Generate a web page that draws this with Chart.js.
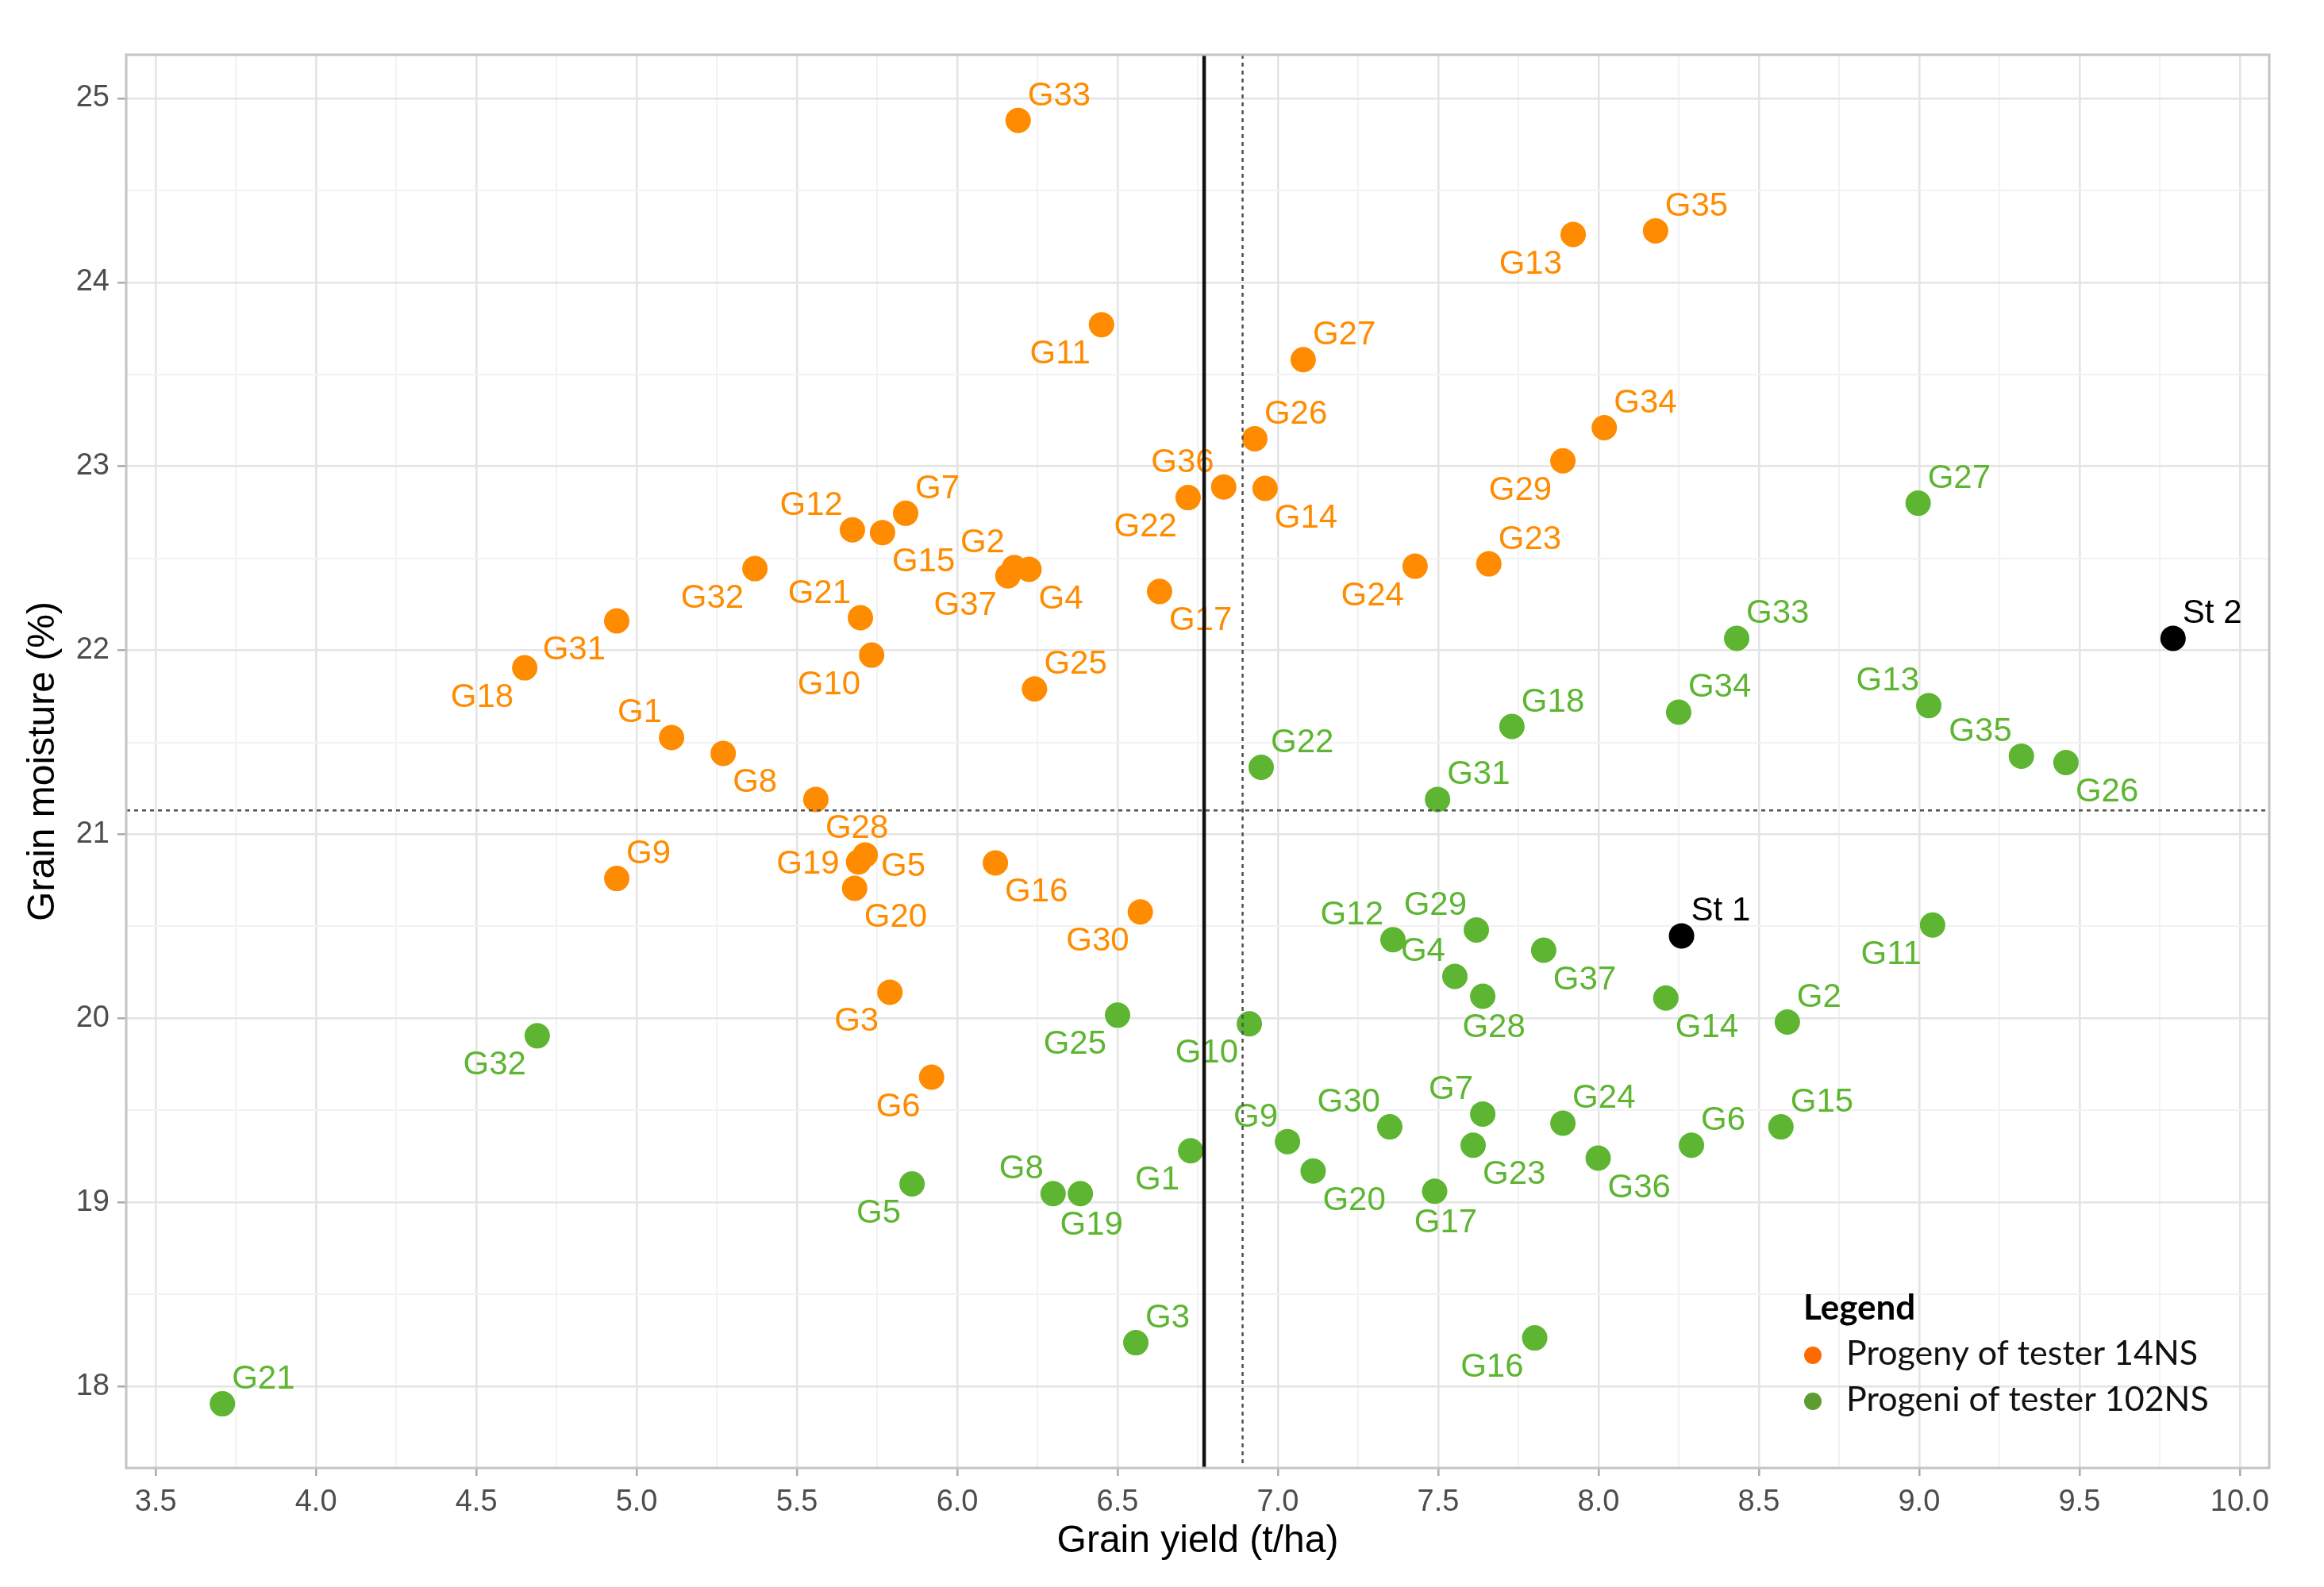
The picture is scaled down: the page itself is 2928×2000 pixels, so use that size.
<!DOCTYPE html>
<html>
<head>
<meta charset="utf-8">
<script src="https://cdn.jsdelivr.net/npm/chart.js@4.4.1/dist/chart.umd.min.js"></script>
<style>
  html, body { margin: 0; padding: 0; background: #ffffff; }
  #wrap { width: 2928px; height: 2000px; }
</style>
</head>
<body>
<div id="wrap"><canvas id="c" width="2928" height="2000"></canvas></div>
<script>
// ---------- DATA ----------
const xTickLabels = ['3.5','4.0','4.5','5.0','5.5','6.0','6.5','7.0','7.5','8.0','8.5','9.0','9.5','10.0'];
const yTickLabels = ['18','19','20','21','22','23','24','25'];
const xRange = [3.408, 10.092];
const yRange = [17.556, 25.237];

// Progeny of tester 14NS (orange)
const orangeNames    = ['G1','G2','G3','G4','G5','G6','G7','G8','G9','G10','G11','G12','G13','G14','G15','G16','G17','G18','G19','G20','G21','G22','G23','G24','G25','G26','G27','G28','G29','G30','G31','G32','G33','G34','G35','G36','G37'];
const orangeYield    = [5.109,6.178,5.790,6.224,5.713,5.920,5.839,5.270,4.938,5.733,6.450,5.673,7.921,6.960,5.767,6.119,6.631,4.651,5.692,5.680,5.698,6.720,7.658,7.428,6.241,6.928,7.079,5.559,7.889,6.571,4.938,5.369,6.190,8.018,8.178,6.831,6.158];
const orangeMoisture = [21.526,22.450,20.142,22.440,20.888,19.680,22.745,21.440,20.760,21.974,23.770,22.655,24.260,22.880,22.640,20.845,22.320,21.905,20.850,20.707,22.177,22.830,22.470,22.457,21.790,23.150,23.580,21.190,23.030,20.578,22.160,22.444,24.880,23.210,24.280,22.888,22.405];
const orangeLabelPos = ['nw','nw','sw','se','e','sw','ne','se','ne','sw','sw','nw','sw','se','se','se','se','sw','w','se','nw','sw','ne','sw','ne','ne','ne','se','sw','sw','sw','sw','ne','ne','ne','nw','sw'];

// Progeni of tester 102NS (green)
const greenNames    = ['G1','G2','G3','G4','G5','G6','G7','G8','G9','G10','G11','G12','G13','G14','G15','G16','G17','G18','G19','G20','G21','G22','G23','G24','G25','G26','G27','G28','G29','G30','G31','G32','G33','G34','G35','G36','G37'];
const greenYield    = [6.728,8.589,6.557,7.552,5.859,8.290,7.639,6.299,7.030,6.911,9.042,7.359,9.030,8.210,8.569,7.801,7.489,7.730,6.384,7.110,3.708,6.948,7.609,7.889,6.500,9.458,8.997,7.639,7.619,7.349,7.498,4.690,8.431,8.250,9.319,7.999,7.829];
const greenMoisture = [19.280,19.980,18.237,20.228,19.100,19.310,19.480,19.047,19.330,19.970,20.507,20.427,21.700,20.110,19.410,18.263,19.060,21.586,19.047,19.170,17.905,21.364,19.310,19.430,20.017,21.390,22.800,20.120,20.480,19.410,21.190,19.905,22.065,21.664,21.425,19.240,20.370];
const greenLabelPos = ['sw','ne','ne','nw','sw','ne','nw','nw','nw','sw','sw','nw','nw','se','ne','sw','s','ne','s','se','ne','ne','se','ne','sw','se','ne','s','nw','nw','ne','sw','ne','ne','nw','se','se'];

// Standards (black)
const stdNames    = ['St 1','St 2'];
const stdYield    = [8.259, 9.792];
const stdMoisture = [20.448, 22.065];
const stdLabelPos = ['ne','ne'];

// Reference lines
const meanYieldSolid  = 6.770;
const meanYieldDashed = 6.890;
const meanMoisture    = 21.130;

// Legend
const legendTitle  = 'Legend';
const legendLabels = ['Progeny of tester 14NS', 'Progeni of tester 102NS'];

// ---------- STYLE ----------
const ORANGE = '#FF8C00';
const GREEN  = '#5DB531';
const BLACK  = '#000000';
const LEGEND_COLORS = ['#FF6A00', '#5E9B31'];
const LABEL_FONT = '42px "Liberation Sans", Arial, sans-serif';

const xMajor = xTickLabels.map(parseFloat);
const yMajor = yTickLabels.map(parseFloat);
function withMinor(major) {
  const out = [];
  for (let i = 0; i < major.length; i++) {
    out.push(major[i]);
    if (i < major.length - 1) out.push((major[i] + major[i + 1]) / 2);
  }
  return out;
}
const isMajor = (arr, v) => arr.some(m => Math.abs(m - v) < 1e-9);

function toPoints(xs, ys) { return xs.map((x, i) => ({ x: x, y: ys[i] })); }

const datasets = [
  { label: legendLabels[0], data: toPoints(orangeYield, orangeMoisture), names: orangeNames, pos: orangeLabelPos, backgroundColor: ORANGE, textColor: ORANGE },
  { label: legendLabels[1], data: toPoints(greenYield, greenMoisture), names: greenNames, pos: greenLabelPos, backgroundColor: GREEN, textColor: GREEN },
  { label: 'Standards', data: toPoints(stdYield, stdMoisture), names: stdNames, pos: stdLabelPos, backgroundColor: BLACK, textColor: BLACK }
].map(d => Object.assign(d, { pointRadius: 16, pointHoverRadius: 16, pointBorderWidth: 0, borderWidth: 0, borderColor: d.backgroundColor }));

// label offsets by direction code
const OFFS = {
  ne: { dx: 12,  dy: -19, align: 'left' },
  nw: { dx: -12, dy: -19, align: 'right' },
  se: { dx: 12,  dy: 49,  align: 'left' },
  sw: { dx: -14, dy: 49,  align: 'right' },
  e:  { dx: 20,  dy: 27,  align: 'left' },
  w:  { dx: -24, dy: 15,  align: 'right' },
  s:  { dx: 14,  dy: 52,  align: 'center' }
};

const labelPlugin = {
  id: 'pointLabels',
  afterDatasetsDraw(chart) {
    const ctx = chart.ctx;
    ctx.save();
    ctx.font = LABEL_FONT;
    ctx.textBaseline = 'alphabetic';
    chart.data.datasets.forEach((ds, di) => {
      const meta = chart.getDatasetMeta(di);
      ctx.fillStyle = ds.textColor;
      meta.data.forEach((el, i) => {
        const o = OFFS[ds.pos[i]] || OFFS.ne;
        ctx.textAlign = o.align;
        ctx.fillText(ds.names[i], el.x + o.dx, el.y + o.dy);
      });
    });
    ctx.restore();
  }
};

const decorPlugin = {
  id: 'decor',
  afterDraw(chart) {
    const ctx = chart.ctx;
    const a = chart.chartArea;
    const xs = chart.scales.x, ys = chart.scales.y;
    ctx.save();
    // reference lines
    ctx.beginPath();
    ctx.rect(a.left, a.top, a.right - a.left, a.bottom - a.top);
    ctx.clip();
    let px = xs.getPixelForValue(meanYieldSolid);
    ctx.strokeStyle = '#111111'; ctx.lineWidth = 4.5; ctx.setLineDash([]);
    ctx.beginPath(); ctx.moveTo(px, a.top); ctx.lineTo(px, a.bottom); ctx.stroke();
    ctx.strokeStyle = '#555555'; ctx.lineWidth = 2.6; ctx.setLineDash([5, 5]);
    px = xs.getPixelForValue(meanYieldDashed);
    ctx.beginPath(); ctx.moveTo(px, a.top); ctx.lineTo(px, a.bottom); ctx.stroke();
    const py = ys.getPixelForValue(meanMoisture);
    ctx.beginPath(); ctx.moveTo(a.left, py); ctx.lineTo(a.right, py); ctx.stroke();
    ctx.restore();

    ctx.save();
    // panel border
    ctx.strokeStyle = '#C4C4C4'; ctx.lineWidth = 3; ctx.setLineDash([]);
    ctx.strokeRect(a.left, a.top, a.right - a.left, a.bottom - a.top);

    // axis titles
    ctx.fillStyle = '#000000';
    ctx.font = '48px "Liberation Sans", Arial, sans-serif';
    ctx.textAlign = 'center'; ctx.textBaseline = 'middle';
    ctx.fillText('Grain yield (t/ha)', (a.left + a.right) / 2, 1943);
    ctx.save();
    ctx.translate(55, (a.top + a.bottom) / 2);
    ctx.rotate(-Math.PI / 2);
    ctx.fillText('Grain moisture (%)', 0, 0);
    ctx.restore();

    // legend
    const lx = a.right - 587;
    const ly = a.bottom - 187;
    ctx.textAlign = 'left'; ctx.textBaseline = 'alphabetic';
    ctx.font = 'bold 44px Lato, "Open Sans", sans-serif';
    ctx.fillStyle = '#000000';
    ctx.fillText(legendTitle, lx, ly);
    ctx.font = '43px Lato, "Open Sans", sans-serif';
    legendLabels.forEach((t, i) => {
      const yy = ly + 57 + i * 58;
      ctx.fillStyle = LEGEND_COLORS[i];
      ctx.beginPath(); ctx.arc(lx + 12, yy - 12, 11, 0, Math.PI * 2); ctx.fill();
      ctx.fillStyle = '#111111';
      ctx.fillText(t, lx + 54, yy);
    });
    ctx.restore();
  }
};

const gridMajor = '#E4E4E4', gridMinor = '#F2F2F2';

new Chart(document.getElementById('c'), {
  type: 'scatter',
  data: { datasets: datasets },
  options: {
    responsive: false,
    devicePixelRatio: 1,
    animation: false,
    events: [],
    layout: { padding: { top: 69, right: 69, left: 0, bottom: 0 } },
    plugins: { legend: { display: false }, tooltip: { enabled: false } },
    scales: {
      x: {
        type: 'linear', min: xRange[0], max: xRange[1],
        afterFit(s) { s.height = 150; },
        afterBuildTicks(s) { s.ticks = withMinor(xMajor).map(v => ({ value: v })); },
        border: { display: false },
        grid: {
          color: c => isMajor(xMajor, c.tick.value) ? gridMajor : gridMinor,
          lineWidth: c => isMajor(xMajor, c.tick.value) ? 2.6 : 2,
          tickColor: c => isMajor(xMajor, c.tick.value) ? '#AAAAAA' : 'rgba(0,0,0,0)',
          tickLength: 10, tickWidth: 2.5
        },
        ticks: {
          autoSkip: false, maxRotation: 0, padding: 11,
          color: '#4D4D4D',
          font: { family: '"Liberation Sans", Arial, sans-serif', size: 38 },
          callback(v) { const i = xMajor.findIndex(m => Math.abs(m - v) < 1e-9); return i >= 0 ? xTickLabels[i] : ''; }
        }
      },
      y: {
        type: 'linear', min: yRange[0], max: yRange[1],
        afterFit(s) { s.width = 159; },
        afterBuildTicks(s) { s.ticks = withMinor(yMajor).map(v => ({ value: v })); },
        border: { display: false },
        grid: {
          color: c => isMajor(yMajor, c.tick.value) ? gridMajor : gridMinor,
          lineWidth: c => isMajor(yMajor, c.tick.value) ? 2.6 : 2,
          tickColor: c => isMajor(yMajor, c.tick.value) ? '#AAAAAA' : 'rgba(0,0,0,0)',
          tickLength: 11, tickWidth: 2.5
        },
        ticks: {
          autoSkip: false, padding: 10,
          color: '#4D4D4D',
          font: { family: '"Liberation Sans", Arial, sans-serif', size: 38 },
          callback(v) { const i = yMajor.findIndex(m => Math.abs(m - v) < 1e-9); return i >= 0 ? yTickLabels[i] : ''; }
        }
      }
    }
  },
  plugins: [labelPlugin, decorPlugin]
});
</script>
</body>
</html>
